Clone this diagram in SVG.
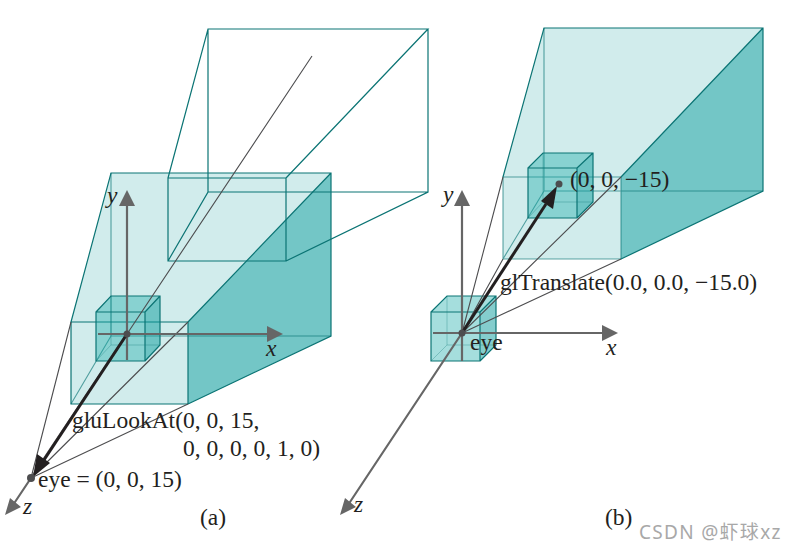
<svg xmlns="http://www.w3.org/2000/svg" width="785" height="551" viewBox="0 0 785 551">
<style>
text{font-family:"Liberation Serif","Times New Roman",serif;font-size:23.5px;fill:#231f20}
.i{font-style:italic}
.w{font-family:"Noto Sans","Noto Sans CJK SC",sans-serif;font-size:19px;letter-spacing:1.3px;fill:#a8a8a8}
.e{fill:none;stroke:#0b7474;stroke-width:1.2}
.el{fill:none;stroke:#0b7474;stroke-width:1.1;stroke-opacity:.65}
.cl{fill:none;stroke:#0b7474;stroke-width:1;stroke-opacity:.3}
.l{fill:#d1ecec}
.d{fill:#73c6c6}
.c{fill:#12a8a6;fill-opacity:.38}
.cd{fill:#0a9c9c;fill-opacity:.5}
.t{fill:none;stroke:#4d4d4f;stroke-width:1.1}
.a{stroke:#666;stroke-width:2.2;fill:none}
.h{fill:#666}
.k{stroke:#231f20;stroke-width:3;fill:none}
.kh{fill:#231f20}
.o{fill:#4d4d4f}
</style>
<g id="frustum-a">
<path class="l" d="M71 322L111 173H331L188 322V404H71Z"/>
<path class="d" d="M188 322L331 173V336L188 404Z"/>
<path class="el" d="M111 173V336H331M71 404L111 336"/>
<path class="e" d="M71 322H188V404H71ZM71 322L111 173H331V336L188 404M188 322L331 173"/>
</g>
<g id="frustum-a-wire">
<path class="e" d="M168 178H286V261H168ZM168 178L208 29H428L286 178M428 29V192L286 261M168 261L208 192V29M208 192H428"/>
</g>
<g id="cube-a">
<path class="c" d="M96 312H145V361H96Z"/>
<path class="c" d="M96 312L111 296H160L145 312Z"/>
<path class="cd" d="M145 312L160 296V345L145 361Z"/>
<path class="cl" d="M111 296V345H160M96 361L111 345"/>
<path class="e" d="M96 312H145V361H96ZM96 312L111 296H160V345L145 361M145 312L160 296"/>
</g>
<g id="frustum-b">
<path class="l" d="M503 177L544 28H763L621 177V259H503Z"/>
<path class="d" d="M621 177L763 28V191L621 259Z"/>
<path class="el" d="M544 28V191H763M503 259L544 191M503 177H621V259H503Z"/>
<path class="e" d="M503 177L544 28H763V191L621 259M621 177L763 28"/>
</g>
<g id="cube-b-far">
<path class="c" d="M528 168H577V218H528Z"/>
<path class="c" d="M528 168L543 153H593L577 168Z"/>
<path class="cd" d="M577 168L593 153V202L577 218Z"/>
<path class="cl" d="M543 153V202H593M528 218L543 202"/>
<path class="e" d="M528 168H577V218H528ZM528 168L543 153H593V202L577 218M577 168L593 153"/>
</g>
<g id="cube-b-eye">
<path class="c" d="M431 312H480V361H431Z"/>
<path class="c" d="M431 312L447 296H496L480 312Z"/>
<path class="cd" d="M480 312L496 296V345L480 361Z"/>
<path class="cl" d="M447 296V345H496M431 361L447 345"/>
<path class="e" d="M431 312H480V361H431ZM431 312L447 296H496V345L480 361M480 312L496 296"/>
</g>
<g id="connectors">
<path class="t" d="M31 478L71 322M31 478L188 322M31 478L188 404M127 334L312 56"/>
<path class="t" d="M462 333L503 177M462 333L621 177M462 333L621 259M462 333L503 259"/>
<path class="a" d="M127 360V204M98 334H269M127 334L13 505"/>
<path class="h" d="M127 190L135 206H119ZM283 334L267 326V342ZM5 515L21 507L10 498Z"/>
<path class="a" d="M462 361V204M433 333H604M462 333L348 505"/>
<path class="h" d="M462 190L470 206H454ZM618 333L602 325V341ZM340 515L356 507L345 498Z"/>
<path class="k" d="M127 334L42 463"/>
<path class="kh" d="M33 477L50 463L37 454Z"/>
<path class="k" d="M462 333L546 204"/>
<path class="kh" d="M557 186L541 201L553 209Z"/>
<circle class="o" cx="127" cy="334" r="3.5"/>
<circle class="o" cx="31" cy="478" r="4"/>
<circle class="o" cx="462" cy="333" r="3.5"/>
<circle class="o" cx="559" cy="184" r="3.5"/>
</g>
<g id="labels">
<text class="i" x="107" y="203">y</text>
<text class="i" x="266" y="356">x</text>
<text class="i" x="23" y="514">z</text>
<text x="72" y="428">gluLookAt(0, 0, 15,</text>
<text x="183" y="456">0, 0, 0, 0, 1, 0)</text>
<text x="38" y="487">eye = (0, 0, 15)</text>
<text x="200" y="525">(a)</text>
<text class="i" x="443" y="202">y</text>
<text class="i" x="606" y="355">x</text>
<text class="i" x="354" y="512">z</text>
<text x="570" y="187">(0, 0, −15)</text>
<text x="500" y="290">glTranslate(0.0, 0.0, −15.0)</text>
<text x="470" y="350">eye</text>
<text x="605" y="525">(b)</text>
<text class="w" x="639" y="539">CSDN @虾球xz</text>
</g>
</svg>
